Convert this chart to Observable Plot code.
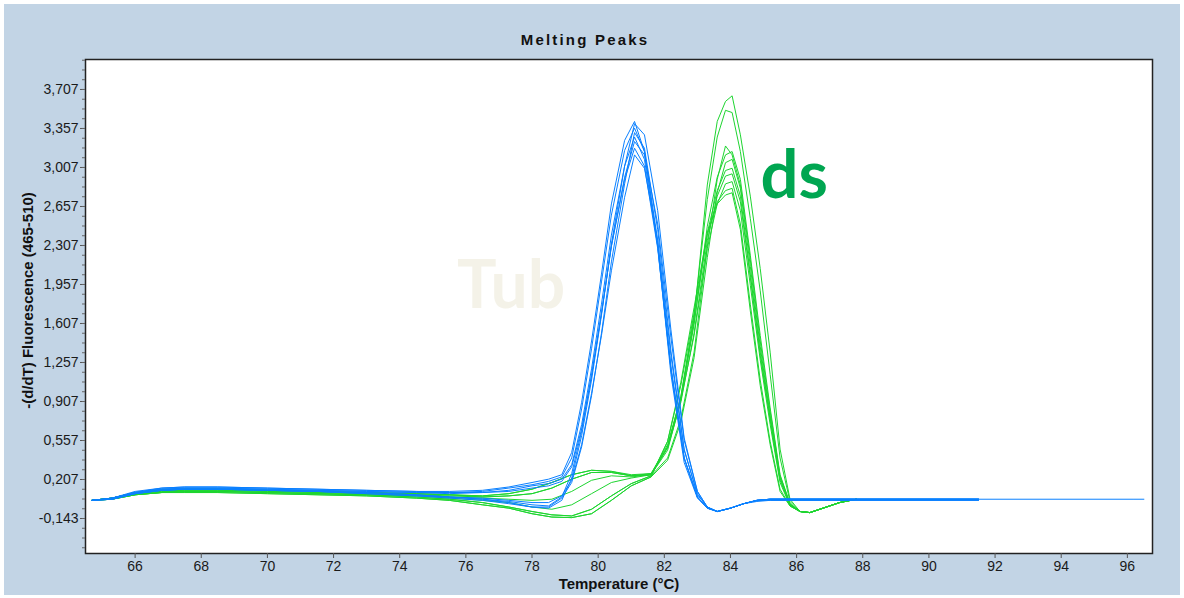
<!DOCTYPE html>
<html><head><meta charset="utf-8">
<script src="https://cdn.jsdelivr.net/npm/d3@7"></script>
<script src="https://cdn.jsdelivr.net/npm/@observablehq/plot@0.6"></script>
<style>
body{margin:0;background:#fff;}
#wrap{position:relative;width:1184px;height:598px;background:#fff;overflow:hidden;}
#panel{position:absolute;left:4px;top:4px;width:1176px;height:591px;background:#C2D4E5;}
#chart{position:absolute;left:0;top:0;}
</style></head><body>
<div id="wrap"><div id="panel"></div><div id="chart"></div></div>
<script>
// Temperature grids (°C)
const tBlue = [64.7,65.3,66.0,66.8,67.5,68.5,70.0,71.5,73.0,74.5,75.5,76.5,77.3,78.0,78.5,78.9,79.2,79.5,79.8,80.1,80.4,80.8,81.1,81.4,81.8,82.2,82.6,83.0,83.3,83.6,84.0,84.4,84.8,85.2,91.5,96.2,96.5];
const tGreen = [64.7,65.3,66.0,66.8,67.5,68.5,70.0,71.5,73.0,74.5,75.5,76.5,77.3,78.0,78.6,79.2,79.8,80.4,81.0,81.6,82.1,82.5,82.9,83.3,83.6,83.85,84.05,84.3,84.6,84.9,85.2,85.5,85.8,86.1,86.4,86.8,87.3,87.8];

// Blue ("Tub") melting curves, -(d/dT) fluorescence
const blueCurves = [
 [0.02,0.04,0.10,0.13,0.14,0.14,0.13,0.12,0.11,0.10,0.10,0.11,0.14,0.18,0.21,0.25,0.45,0.90,1.45,2.05,2.68,3.25,3.42,3.15,2.30,1.15,0.36,0.04,-0.05,-0.08,-0.05,-0.01,0.02,0.03,0.03,0.03,0.03],
 [0.02,0.03,0.08,0.11,0.12,0.12,0.11,0.10,0.09,0.07,0.05,0.03,0.00,-0.04,-0.05,0.02,0.22,0.60,1.10,1.68,2.32,3.02,3.40,3.30,2.62,1.55,0.58,0.10,-0.04,-0.08,-0.05,-0.01,0.01,0.02,0.02,null,null],
 [0.02,0.04,0.09,0.13,0.14,0.14,0.13,0.12,0.11,0.10,0.09,0.10,0.13,0.16,0.19,0.23,0.40,0.84,1.38,1.98,2.58,3.16,3.36,3.15,2.35,1.22,0.40,0.05,-0.05,-0.08,-0.05,-0.01,0.02,0.03,0.03,null,null],
 [0.02,0.03,0.08,0.11,0.12,0.12,0.11,0.10,0.08,0.06,0.04,0.02,-0.01,-0.04,-0.04,0.04,0.18,0.50,0.96,1.52,2.16,2.86,3.32,3.18,2.45,1.36,0.48,0.07,-0.04,-0.08,-0.05,-0.01,0.02,0.03,0.03,null,null],
 [0.02,0.04,0.09,0.12,0.13,0.13,0.12,0.11,0.10,0.09,0.09,0.09,0.11,0.15,0.17,0.21,0.34,0.70,1.20,1.78,2.40,3.02,3.28,3.08,2.30,1.20,0.40,0.05,-0.05,-0.08,-0.05,-0.01,0.02,0.03,0.03,null,null],
 [0.02,0.03,0.08,0.11,0.12,0.12,0.11,0.10,0.09,0.07,0.05,0.03,0.01,-0.02,-0.03,0.05,0.26,0.64,1.14,1.70,2.30,2.92,3.24,3.12,2.50,1.48,0.56,0.10,-0.04,-0.08,-0.05,-0.01,0.02,0.03,0.03,null,null],
 [0.02,0.04,0.09,0.12,0.13,0.13,0.12,0.11,0.10,0.09,0.08,0.09,0.10,0.13,0.15,0.19,0.32,0.66,1.14,1.70,2.30,2.90,3.18,3.02,2.28,1.20,0.40,0.05,-0.05,-0.08,-0.05,-0.01,0.02,0.03,0.03,null,null],
 [0.02,0.03,0.08,0.11,0.12,0.12,0.11,0.10,0.08,0.06,0.05,0.04,0.02,0.00,0.00,0.06,0.20,0.52,0.98,1.50,2.08,2.74,3.12,3.00,2.35,1.32,0.47,0.08,-0.04,-0.08,-0.05,-0.01,0.02,0.02,0.02,null,null]
];

// Green ("ds") melting curves
const greenCurves = [
 [0.02,0.04,0.09,0.11,0.12,0.12,0.11,0.10,0.09,0.08,0.07,0.05,0.06,0.08,0.13,0.21,0.27,0.27,0.24,0.25,0.47,0.92,1.65,2.85,3.42,3.60,3.65,3.30,2.75,2.10,1.35,0.48,0.03,-0.08,-0.09,-0.05,0.00,0.03],
 [0.02,0.04,0.09,0.12,0.12,0.12,0.11,0.10,0.09,0.08,0.07,0.06,0.08,0.12,0.18,0.25,0.29,0.28,0.24,0.26,0.50,0.95,1.68,2.72,3.28,3.52,3.50,3.15,2.55,1.90,1.15,0.40,0.01,-0.08,-0.09,-0.05,0.00,0.03],
 [0.02,0.03,0.07,0.09,0.10,0.10,0.09,0.08,0.07,0.05,0.03,0.00,-0.04,-0.08,-0.11,-0.12,-0.06,0.06,0.17,0.24,0.40,0.75,1.35,2.30,2.90,3.20,3.12,2.85,2.18,1.45,0.82,0.24,-0.01,-0.08,-0.09,-0.05,0.00,0.03],
 [0.02,0.04,0.08,0.10,0.11,0.11,0.10,0.09,0.08,0.07,0.05,0.04,0.03,0.02,0.03,0.10,0.20,0.24,0.23,0.25,0.50,0.93,1.60,2.48,2.92,3.12,3.15,2.90,2.22,1.50,0.85,0.25,-0.01,-0.08,-0.09,-0.05,0.00,0.03],
 [0.02,0.03,0.07,0.09,0.09,0.09,0.08,0.07,0.06,0.04,0.02,-0.02,-0.05,-0.10,-0.13,-0.135,-0.10,0.02,0.15,0.23,0.38,0.72,1.30,2.20,2.78,3.05,3.08,2.82,2.12,1.40,0.78,0.22,-0.02,-0.08,-0.09,-0.05,0.00,0.03],
 [0.02,0.04,0.09,0.11,0.12,0.12,0.11,0.10,0.09,0.08,0.07,0.06,0.08,0.12,0.18,0.25,0.29,0.28,0.25,0.26,0.52,0.95,1.62,2.42,2.80,2.98,3.00,2.75,2.05,1.35,0.76,0.22,-0.02,-0.08,-0.09,-0.05,0.00,0.03],
 [0.02,0.04,0.08,0.10,0.10,0.10,0.09,0.08,0.07,0.06,0.04,0.02,0.00,-0.04,-0.06,-0.02,0.08,0.18,0.22,0.25,0.49,0.90,1.52,2.35,2.75,2.93,2.95,2.70,2.02,1.32,0.74,0.20,-0.02,-0.08,-0.09,-0.05,0.00,0.03],
 [0.02,0.04,0.08,0.11,0.11,0.11,0.10,0.09,0.08,0.07,0.06,0.05,0.06,0.08,0.13,0.21,0.27,0.27,0.24,0.25,0.50,0.92,1.50,2.28,2.68,2.86,2.88,2.62,1.95,1.28,0.70,0.18,-0.03,-0.08,-0.09,-0.05,0.00,0.03],
 [0.02,0.03,0.07,0.09,0.10,0.10,0.09,0.08,0.07,0.05,0.03,0.00,-0.04,-0.08,-0.11,-0.12,-0.06,0.06,0.17,0.24,0.55,1.05,1.70,2.40,2.70,2.80,2.82,2.50,1.78,1.10,0.55,0.12,-0.03,-0.08,-0.09,-0.05,0.00,0.03],
 [0.02,0.03,0.07,0.09,0.09,0.09,0.08,0.07,0.06,0.04,0.02,-0.02,-0.05,-0.10,-0.13,-0.135,-0.10,0.02,0.15,0.23,0.55,1.08,1.75,2.42,2.68,2.76,2.78,2.45,1.72,1.05,0.52,0.10,-0.03,-0.08,-0.09,-0.05,0.00,0.03]
];

// Axis ticks and labels
const xTicks = [66,68,70,72,74,76,78,80,82,84,86,88,90,92,94,96];
const yTicks = [-0.143,0.207,0.557,0.907,1.257,1.607,1.957,2.307,2.657,3.007,3.357,3.707];
const titleText = "Melting Peaks";
const xLabel = "Temperature (°C)";
const yLabel = "-(d/dT) Fluorescence (465-510)";

// Annotations (text placed in data coordinates)
const annotText = ["Tub", "ds"];
const annotT = [77.37, 85.93];
const annotV = [1.94, 2.93];
const annotColor = ["#F4F2E8", "#00A651"];

function toRows(grid, curves, prefix) {
  const rows = [];
  curves.forEach((c, i) => c.forEach((v, j) => {
    if (v !== null) rows.push({T: grid[j], v, id: prefix + i});
  }));
  return rows;
}
const blueRows = toRows(tBlue, blueCurves, "B");
const greenRows = toRows(tGreen, greenCurves, "G");
const annots = annotText.map((s, i) => ({s, T: annotT[i], v: annotV[i], c: annotColor[i]}));
const minorTicks = d3.range(-0.143 - 0.35, 3.976, 0.0875).filter(v => v > -0.457);
const fmt = d => d.toFixed(3).replace(".", ",");

const plot = Plot.plot({
  width: 1184, height: 598,
  marginLeft: 85, marginTop: 59, marginRight: 32, marginBottom: 45,
  style: {background: "transparent", fontFamily: "'Liberation Sans', Arial, sans-serif", color: "#1a1a1a"},
  x: {domain: [64.5, 96.76]},
  y: {domain: [-0.457, 3.976]},
  marks: [
    Plot.frame({fill: "white", stroke: null}),
    Plot.text(annots.slice(0,1), {x: "T", y: "v", text: "s", fill: "c", fontSize: 66, fontWeight: "bold", fontFamily: "Lato, 'Open Sans', sans-serif", lineAnchor: "middle"}),
    Plot.line(greenRows, {x: "T", y: "v", z: "id", stroke: "#1ED530", strokeWidth: 1, clip: true}),
    Plot.line(blueRows, {x: "T", y: "v", z: "id", stroke: "#0A80FF", strokeWidth: 1, clip: true}),
    Plot.text(annots.slice(1), {x: "T", y: "v", text: "s", fill: "c", fontSize: 67, fontWeight: "bold", fontFamily: "Lato, 'Open Sans', sans-serif", lineAnchor: "middle"}),
    Plot.frame({stroke: "#222", strokeWidth: 1.5}),
    Plot.axisY(yTicks, {tickSize: 5, tickPadding: 2, tickFormat: fmt, fontSize: 14, label: null, stroke: "#555"}),
    Plot.axisY(minorTicks, {tickSize: 3, tickFormat: () => "", label: null, stroke: "#666"}),
    Plot.axisX(xTicks, {tickSize: 5, tickPadding: 3, fontSize: 14, label: null, stroke: "#555"}),
    Plot.text([titleText], {frameAnchor: "top", dx: -34, dy: -19, lineAnchor: "middle", fontWeight: "bold", fontSize: 15, fill: "#111"}),
    Plot.text([xLabel], {frameAnchor: "bottom", dy: 31, lineAnchor: "middle", fontWeight: "bold", fontSize: 15, fill: "#111"}),
    Plot.text([yLabel], {frameAnchor: "left", textAnchor: "middle", dx: -57, dy: -6, rotate: -90, lineAnchor: "middle", fontWeight: "bold", fontSize: 15, fill: "#111"})
  ]
});
d3.select(plot).selectAll("text").filter(function() { return this.textContent === titleText; })
  .attr("letter-spacing", "2.2px");
document.getElementById("chart").appendChild(plot);
</script>
</body></html>
